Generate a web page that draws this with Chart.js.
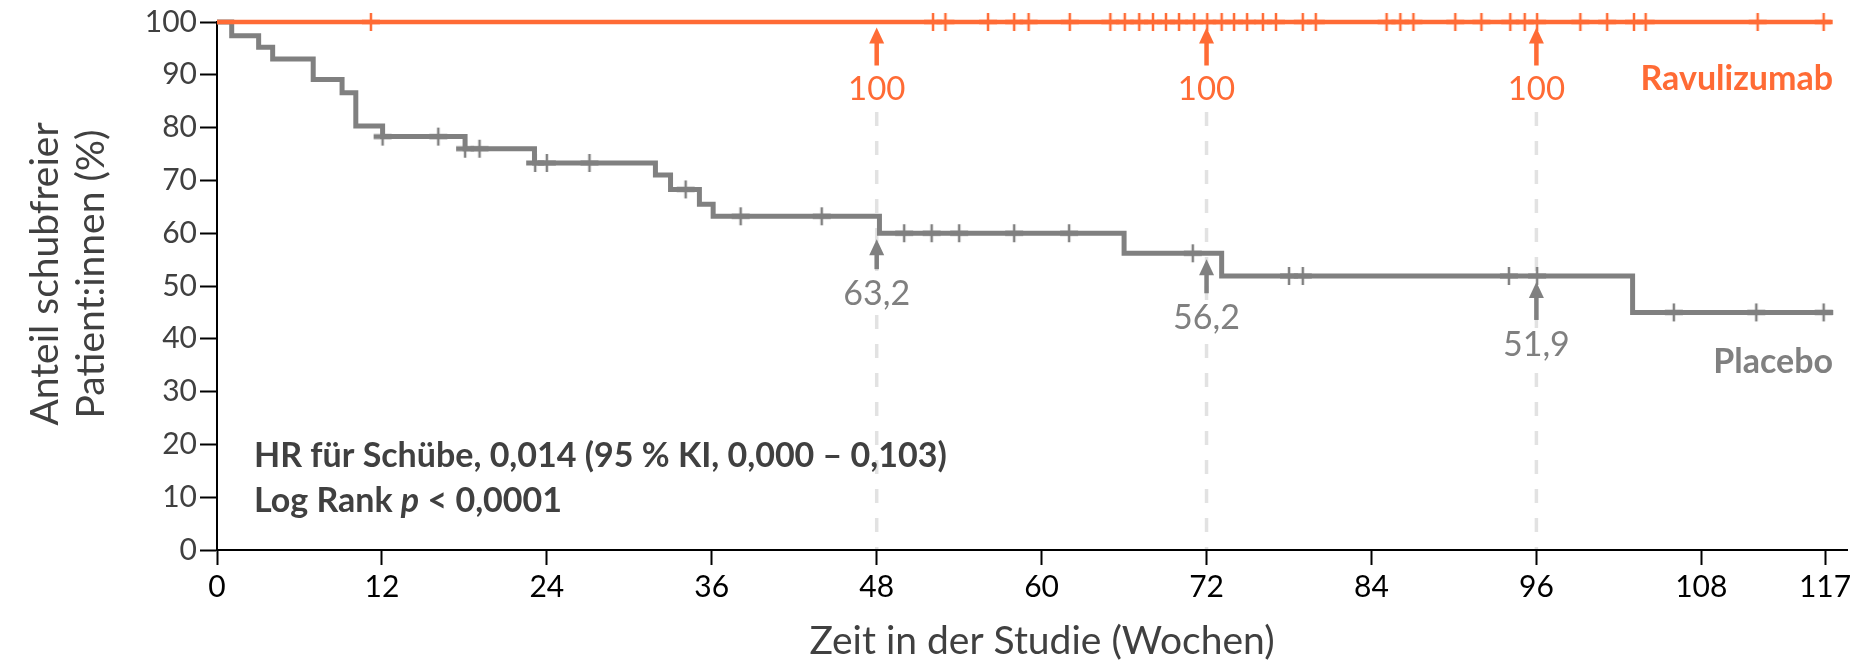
<!DOCTYPE html>
<html><head><meta charset="utf-8">
<script src="https://cdn.jsdelivr.net/npm/chart.js@4.4.1/dist/chart.umd.min.js"></script>
<style>html,body{margin:0;padding:0;background:#fff;overflow:hidden}#wrap{width:1857px;height:662px;position:relative}</style>
</head><body><div id="wrap"><canvas id="c" width="1857" height="662"></canvas></div>
<script>
// ---- data ----
const xTicks = [0, 12, 24, 36, 48, 60, 72, 84, 96, 108, 117];
const yTicks = [0, 10, 20, 30, 40, 50, 60, 70, 80, 90, 100];
const ravuLabel = 'Ravulizumab';
const placeboLabel = 'Placebo';
const ravuLevel = 100;
const ravuEnd = 117.45;
const ravuCensors = [11.2, 52.1, 53.0, 56.1, 58.0, 59.05, 62.05, 65.0, 66.05, 67.1, 68.1, 69.05, 70.0, 71.1, 72.05, 73.1, 74.0, 74.95, 76.1, 77.05, 79.0, 79.95, 85.1, 86.1, 87.05, 90.1, 92.0, 94.1, 95.15, 96.05, 99.2, 101.15, 103.1, 103.95, 112.1, 116.9];
const placeboDropTimes = [0, 1.07, 3.03, 4.05, 7.0, 9.1, 10.1, 12.05, 18.05, 23.1, 31.9, 33.0, 35.1, 36.1, 48.2, 66.0, 73.1, 103.0];
const placeboLevels    = [100, 97.4, 95.2, 93.0, 89.1, 86.6, 80.3, 78.3, 76.0, 73.3, 71.0, 68.3, 65.5, 63.2, 60.0, 56.2, 51.9, 45.0];
const placeboEnd = 117.6;
const placeboCensors = [12.05, 16.1, 18.05, 19.1, 23.15, 24.0, 27.1, 34.1, 38.1, 44.0, 50.0, 52.0, 54.0, 58.0, 62.0, 71.0, 78.0, 79.0, 94.0, 96.05, 106.0, 112.0, 116.9];
const milestoneWeeks = [48, 72, 96];
const ravuMilestoneLabels = ['100', '100', '100'];
const placeboMilestoneLabels = ['63,2', '56,2', '51,9'];
const yTitleLines = ['Anteil schubfreier', 'Patient:innen (%)'];
const xTitle = 'Zeit in der Studie (Wochen)';
const hrLine1 = 'HR für Schübe, 0,014 (95 % KI, 0,000 – 0,103)';
const hrLine2 = ['Log Rank ', 'p', ' < 0,0001'];

// ---- styles ----
const ORANGE = '#ff6b35', GRAY = '#808080', DARK = '#404040', DASH = '#e2e2e2';
const FONT = 'Lato';
const grayArrowLen = [30, 34, 38];

function levelAt(t) {
  let v = placeboLevels[0];
  for (let i = 0; i < placeboDropTimes.length; i++) if (placeboDropTimes[i] <= t) v = placeboLevels[i];
  return v;
}
function makeCensor(color, thick) {
  const c = document.createElement('canvas');
  c.width = 20; c.height = 20;
  const g = c.getContext('2d');
  g.fillStyle = color;
  g.fillRect(10 - 1.25, 1, 2.5, 18);
  g.fillRect(1, 10 - thick / 2, 18, thick);
  return c;
}

const placeboLine = placeboDropTimes.map((t, i) => ({x: t, y: placeboLevels[i]}));
placeboLine.push({x: placeboEnd, y: placeboLevels[placeboLevels.length - 1]});
const placeboCensorPts = placeboCensors.map(t => ({x: t, y: levelAt(t)}));
const ravuLine = [{x: 0, y: ravuLevel}, {x: ravuEnd, y: ravuLevel}];
const ravuCensorPts = ravuCensors.map(t => ({x: t, y: ravuLevel}));

function arrowUp(ctx, x, tipY, len, color) {
  const headH = 16, headW = 15, shaftW = 4.5;
  ctx.fillStyle = color;
  ctx.beginPath();
  ctx.moveTo(x, tipY);
  ctx.lineTo(x + headW / 2, tipY + headH);
  ctx.lineTo(x - headW / 2, tipY + headH);
  ctx.closePath();
  ctx.fill();
  ctx.fillRect(x - shaftW / 2, tipY + headH - 1, shaftW, len - headH + 1);
}

const annot = {
  id: 'annot',
  beforeDatasetsDraw(chart) {
    const {ctx, scales: {x, y}} = chart;
    ctx.save();
    ctx.strokeStyle = DASH; ctx.lineWidth = 3.5; ctx.setLineDash([14, 15]);
    milestoneWeeks.forEach(w => {
      const px = x.getPixelForValue(w);
      ctx.beginPath(); ctx.moveTo(px, 112); ctx.lineTo(px, y.getPixelForValue(0) - 1); ctx.stroke();
    });
    ctx.restore();
  },
  afterDatasetsDraw(chart) {
    const {ctx, scales: {x, y}} = chart;
    ctx.save();
    ctx.textAlign = 'center'; ctx.textBaseline = 'middle';
    milestoneWeeks.forEach((w, i) => {
      const px = x.getPixelForValue(w);
      // ravulizumab
      const tipR = y.getPixelForValue(ravuLevel) + 5.5;
      arrowUp(ctx, px, tipR, 38, ORANGE);
      ctx.font = '33px ' + FONT; ctx.fillStyle = ORANGE;
      ctx.fillText(ravuMilestoneLabels[i], px, tipR + 38 + 24);
      // placebo
      const lv = Math.min(levelAt(w), levelAt(w + 0.5));
      const tipP = y.getPixelForValue(lv) + 6;
      const len = grayArrowLen[i];
      arrowUp(ctx, px, tipP, len, GRAY);
      const ly = tipP + len + 25;
      ctx.font = '34px ' + FONT;
      const tw = ctx.measureText(placeboMilestoneLabels[i]).width;
      ctx.fillStyle = '#fff'; ctx.fillRect(px - tw / 2 - 4, ly - 17, tw + 8, 34);
      ctx.fillStyle = GRAY;
      ctx.fillText(placeboMilestoneLabels[i], px, ly);
    });
    // series labels
    ctx.textAlign = 'right';
    ctx.font = 'bold 34px ' + FONT;
    ctx.fillStyle = ORANGE; ctx.fillText(ravuLabel, 1833, 79);
    ctx.fillStyle = GRAY; ctx.fillText(placeboLabel, 1833, 362);
    // HR text
    ctx.textAlign = 'left'; ctx.fillStyle = DARK;
    ctx.font = 'bold 34px ' + FONT;
    ctx.fillText(hrLine1, 254, 456);
    let cx = 254;
    hrLine2.forEach((s, k) => {
      ctx.font = (k === 1 ? 'italic bold 34px ' : 'bold 34px ') + FONT;
      ctx.fillText(s, cx, 501);
      cx += ctx.measureText(s).width;
    });
    // axis titles
    ctx.font = '39px ' + FONT; ctx.fillStyle = DARK; ctx.textAlign = 'center';
    ctx.fillText(xTitle, 1042, 641);
    ctx.save();
    ctx.translate(0, 274); ctx.rotate(-Math.PI / 2);
    ctx.fillText(yTitleLines[0], 0, 45);
    ctx.fillText(yTitleLines[1], 0, 91);
    ctx.restore();
    ctx.restore();
  }
};

function build() {
  new Chart(document.getElementById('c'), {
    type: 'scatter',
    data: {
      datasets: [
        {label: ravuLabel, data: ravuLine, showLine: true, borderColor: ORANGE, borderWidth: 4.5, pointRadius: 0, clip: false, borderCapStyle: 'butt'},
        {label: ravuLabel + ' zensiert', data: ravuCensorPts, showLine: false, pointStyle: makeCensor(ORANGE, 4.5), pointRadius: 9, clip: false},
        {label: placeboLabel, data: placeboLine, showLine: true, stepped: 'before', borderColor: GRAY, borderWidth: 5, pointRadius: 0, clip: false, borderJoinStyle: 'miter', borderCapStyle: 'butt'},
        {label: placeboLabel + ' zensiert', data: placeboCensorPts, showLine: false, pointStyle: makeCensor(GRAY, 5), pointRadius: 9, clip: false}
      ]
    },
    options: {
      responsive: false, animation: false, devicePixelRatio: 1,
      layout: {padding: {top: 22, left: 0, right: 0, bottom: 0}},
      plugins: {legend: {display: false}, tooltip: {enabled: false}},
      scales: {
        x: {
          type: 'linear', min: 0, max: 118.6,
          afterBuildTicks: s => { s.ticks = xTicks.map(v => ({value: v})); },
          afterFit: s => { s.height = 112; },
          ticks: {color: '#000', font: {family: FONT, size: 30}, padding: 4, autoSkip: false, maxRotation: 0, callback: v => String(v)},
          grid: {display: true, drawOnChartArea: false, drawTicks: true, tickLength: 15, tickColor: '#000', tickWidth: 2},
          border: {display: true, color: '#000', width: 2},
          title: {display: false}
        },
        y: {
          type: 'linear', min: 0, max: 100,
          afterBuildTicks: s => { s.ticks = yTicks.map(v => ({value: v})); },
          afterFit: s => { s.width = 217; },
          ticks: {color: DARK, font: {family: FONT, size: 30}, padding: 3, autoSkip: false, callback: v => String(v)},
          grid: {display: true, drawOnChartArea: false, drawTicks: true, tickLength: 17, tickColor: '#000', tickWidth: 2},
          border: {display: true, color: '#000', width: 2}
        }
      }
    },
    plugins: [annot]
  });
}
Promise.all([document.fonts.load('30px Lato'), document.fonts.load('bold 30px Lato'), document.fonts.load('italic bold 30px Lato')]).then(build, build);
</script></body></html>
